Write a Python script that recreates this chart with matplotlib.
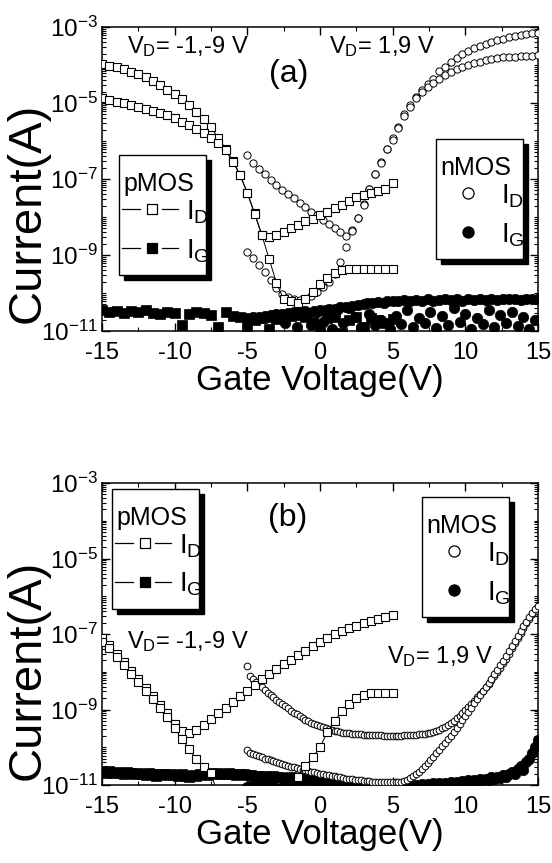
import numpy as np
import matplotlib
import matplotlib.pyplot as plt
from matplotlib.patches import Rectangle
from matplotlib.ticker import FixedLocator, LogLocator, MultipleLocator, FuncFormatter, NullFormatter

matplotlib.use('Agg')

plt.rcParams['font.family'] = ['Liberation Sans', 'DejaVu Sans']
plt.rcParams['mathtext.fontset'] = 'custom'
plt.rcParams['mathtext.rm'] = 'Liberation Sans'
plt.rcParams['mathtext.it'] = 'Liberation Sans:italic'
plt.rcParams['mathtext.bf'] = 'Liberation Sans:bold'
plt.rcParams['axes.unicode_minus'] = False

# gate voltage sweeps
VG_P = np.linspace(-15, 5, 41)          # pMOS drain current, 0.5 V steps
VG_N_A = np.linspace(-5, 15, 51)        # nMOS drain current (a), 0.4 V steps
VG_N_B = np.linspace(-5, 15, 101)       # nMOS drain current (b), 0.2 V steps
VG_PG_B = np.linspace(-15, 5, 81)       # pMOS gate current (b), 0.25 V steps
VG_NG = np.linspace(-5, 15, 101)        # nMOS gate current, 0.2 V steps

# all currents as log10(I / A)
# ---- panel (a)
a_p_id_hi = [-3.97, -4.02, -4.05, -4.11, -4.18, -4.23, -4.31, -4.43, -4.53, -4.65, -4.76,
             -4.9, -5.05, -5.23, -5.43, -5.64, -5.92, -6.2, -6.52, -6.89, -7.36, -7.9,
             -8.47, -8.52, -8.47, -8.39, -8.3, -8.21, -8.11, -8.04, -7.95, -7.86, -7.75,
             -7.68, -7.58, -7.48, -7.42, -7.36, -7.31, -7.25, -7.11]
a_p_id_lo = [-4.88, -4.92, -4.97, -5.01, -5.05, -5.1, -5.16, -5.2, -5.26, -5.32, -5.4,
             -5.49, -5.58, -5.69, -5.79, -5.91, -6.06, -6.24, -6.54, -6.9, -7.37, -7.92,
             -8.48, -9.1, -9.73, -10.17, -10.2, -10.25, -10.17, -9.97, -9.77, -9.61, -9.48,
             -9.39, -9.38, -9.38, -9.38, -9.38, -9.38, -9.38, -9.38]
a_p_ig = [-10.45, -10.5, -10.47, -10.52, -10.48, -10.5, -10.46, -10.52, -10.55, -10.5, -10.52,
          -10.85, -10.55, -10.5, -10.53, -10.58, -10.9, -10.5, -10.6, -10.62, -10.88, -10.7,
          -10.65, -10.95, -10.68, -10.62, -10.6, -10.58, -10.63, -10.75, -10.9, -10.66, -10.62,
          -11.05, -10.7, -10.62, -10.9, -10.65, -10.7, -10.8, -10.68]
a_n_id_hi = [-6.37, -6.58, -6.74, -6.88, -7.02, -7.15, -7.28, -7.39, -7.51, -7.62, -7.74,
             -7.86, -7.96, -8.08, -8.19, -8.29, -8.4, -8.5, -8.34, -8.02, -7.67, -7.26,
             -6.86, -6.54, -6.21, -5.93, -5.62, -5.3, -5.05, -4.83, -4.65, -4.5, -4.36,
             -4.17, -4.04, -3.92, -3.81, -3.72, -3.63, -3.56, -3.5, -3.45, -3.4, -3.35,
             -3.31, -3.27, -3.24, -3.21, -3.19, -3.17, -3.15]
a_n_id_lo = [-8.91, -9.08, -9.27, -9.45, -9.66, -9.86, -10.02, -10.1, -10.17, -10.18, -10.15,
             -10.08, -9.98, -9.84, -9.71, -9.5, -9.18, -8.8, -8.37, -8.02, -7.69, -7.27,
             -6.88, -6.57, -6.22, -5.98, -5.66, -5.34, -5.1, -4.88, -4.72, -4.58, -4.47,
             -4.37, -4.27, -4.19, -4.11, -4.05, -4.0, -3.95, -3.91, -3.87, -3.84, -3.82,
             -3.8, -3.79, -3.78, -3.77, -3.76, -3.75, -3.74]
a_n_ig = [-10.66, -10.7, -10.64, -10.68, -10.62, -10.66, -10.6, -10.64, -10.58, -10.62, -10.56,
          -10.6, -10.55, -10.8, -10.53, -10.57, -10.51, -10.9, -10.5, -10.54, -10.48,
          -10.52, -10.85, -10.47, -10.5, -10.44, -10.75, -10.46, -10.42, -10.95, -10.41,
          -10.44, -10.38, -10.8, -10.36, -10.4, -10.34, -10.62, -10.32, -10.9, -10.3,
          -10.27, -10.55, -10.25, -10.85, -10.23, -10.7, -10.26, -10.22, -10.95, -10.2,
          -10.6, -10.22, -10.82, -10.19, -10.45, -10.21, -10.9, -10.18, -10.65, -10.2,
          -10.78, -10.17, -10.5, -10.2, -10.92, -10.18, -10.6, -10.16, -10.85, -10.19,
          -10.4, -10.17, -10.75, -10.2, -10.55, -10.16, -10.95, -10.18, -10.65, -10.15,
          -10.82, -10.18, -10.45, -10.16, -10.9, -10.19, -10.58, -10.15, -10.8, -10.17,
          -10.5, -10.16, -10.88, -10.18, -10.62, -10.15, -10.95, -10.17, -10.7, -10.16]

# ---- panel (b)
b_p_id_hi = [-7.1, -7.3, -7.52, -7.75, -7.98, -8.2, -8.42, -8.65, -8.88, -9.1, -9.38,
             -9.58, -9.62, -9.55, -9.4, -9.25, -9.1, -8.95, -8.8, -8.65, -8.5, -8.35,
             -8.2, -8.05, -7.92, -7.8, -7.68, -7.56, -7.44, -7.33, -7.22, -7.1, -7.0,
             -6.92, -6.85, -6.78, -6.72, -6.66, -6.6, -6.55, -6.5]
b_p_id_lo = [-7.2, -7.38, -7.6, -7.83, -8.06, -8.28, -8.5, -8.72, -8.95, -9.2, -9.48,
             -9.78, -10.05, -10.32, -10.52, -10.68, -11.3, -11.5, -11.6, -11.7, -11.7, -11.7,
             -11.6, -11.6, -11.5, -11.4, -11.2, -10.78, -10.5, -10.27, -10.0, -9.6, -9.3,
             -9.05, -8.85, -8.7, -8.62, -8.57, -8.55, -8.55, -8.57]
b_p_ig = [-10.62, -10.67, -10.64, -10.69, -10.65, -10.68, -10.71, -10.66, -10.69, -10.72, -10.67,
          -10.7, -10.73, -10.68, -10.71, -10.75, -10.72, -10.7, -10.74, -10.71, -10.73,
          -10.76, -10.72, -10.75, -10.78, -10.74, -10.76, -10.72, -10.7, -10.73, -10.69,
          -10.71, -10.68, -10.7, -10.72, -10.69, -10.71, -10.73, -10.7, -10.72, -10.74,
          -10.74, -10.77, -10.75, -10.78, -10.76, -10.79, -10.77, -10.8, -10.78, -10.81,
          -10.82, -10.8, -10.83, -10.81, -10.84, -10.85, -10.83, -10.86, -10.87, -10.85,
          -10.88, -10.9, -10.89, -10.91, -10.93, -10.92, -10.94, -10.96, -10.95, -10.98,
          -11.0, -10.99, -11.01, -11.03, -11.02, -11.04, -11.06, -11.05, -11.08, -11.1]
b_n_id_hi = [-7.85, -8.12, -8.2, -8.27, -8.34, -8.41, -8.48, -8.55, -8.61, -8.68, -8.74,
             -8.8, -8.86, -8.92, -8.97, -9.03, -9.08, -9.13, -9.18, -9.22, -9.27,
             -9.31, -9.35, -9.38, -9.41, -9.44, -9.47, -9.5, -9.52, -9.54, -9.56,
             -9.58, -9.6, -9.61, -9.62, -9.63, -9.64, -9.65, -9.66, -9.66, -9.67,
             -9.67, -9.68, -9.68, -9.68, -9.68, -9.68, -9.69, -9.69, -9.69, -9.69,
             -9.69, -9.69, -9.69, -9.68, -9.68, -9.68, -9.67, -9.67, -9.66, -9.65,
             -9.64, -9.63, -9.61, -9.59, -9.57, -9.54, -9.5, -9.46, -9.41, -9.36,
             -9.3, -9.23, -9.16, -9.09, -9.01, -8.93, -8.85, -8.77, -8.68, -8.59,
             -8.5, -8.41, -8.32, -8.22, -8.12, -8.01, -7.9, -7.78, -7.65, -7.52,
             -7.38, -7.24, -7.1, -6.97, -6.84, -6.71, -6.59, -6.48, -6.38, -6.28]
b_n_id_lo = [-10.07, -10.15, -10.18, -10.21, -10.24, -10.27, -10.3, -10.32, -10.35, -10.37, -10.4,
             -10.42, -10.45, -10.47, -10.49, -10.51, -10.53, -10.55, -10.57, -10.59, -10.61,
             -10.63, -10.65, -10.66, -10.68, -10.7, -10.71, -10.73, -10.74, -10.76, -10.77,
             -10.79, -10.8, -10.81, -10.83, -10.84, -10.85, -10.86, -10.87, -10.88, -10.89,
             -10.9, -10.9, -10.91, -10.91, -10.92, -10.92, -10.93, -10.93, -10.93, -10.93,
             -10.93, -10.92, -10.91, -10.89, -10.86, -10.82, -10.77, -10.71, -10.65, -10.58,
             -10.5, -10.42, -10.34, -10.25, -10.16, -10.07, -9.98, -9.89, -9.79, -9.69,
             -9.59, -9.49, -9.38, -9.28, -9.17, -9.06, -8.95, -8.84, -8.73, -8.62,
             -8.51, -8.4, -8.29, -8.18, -8.07, -7.95, -7.83, -7.71, -7.58, -7.45,
             -7.32, -7.19, -7.06, -6.93, -6.8, -6.68, -6.56, -6.45, -6.35, -6.26]
b_n_ig = [-11.05, -11.02, -11.06, -11.03, -11.07, -11.04, -11.08, -11.05, -11.1, -11.06, -11.08,
          -11.1, -11.07, -11.12, -11.09, -11.11, -11.14, -11.1, -11.13, -11.15, -11.12,
          -11.15, -11.18, -11.14, -11.17, -11.2, -11.16, -11.19, -11.22, -11.18, -11.2,
          -11.22, -11.19, -11.24, -11.21, -11.25, -11.22, -11.26, -11.23, -11.2, -11.24,
          -11.22, -11.2, -11.18, -11.21, -11.17, -11.15, -11.18, -11.14, -11.12, -11.1,
          -11.08, -11.05, -11.07, -11.02, -11.04, -11.0, -11.03, -10.99, -11.02, -10.98,
          -11.0, -10.97, -11.02, -10.96, -10.99, -10.95, -11.0, -10.94, -10.97, -10.93,
          -10.96, -10.92, -10.95, -10.9, -10.94, -10.88, -10.92, -10.87, -10.9, -10.85,
          -10.88, -10.83, -10.86, -10.8, -10.84, -10.78, -10.82, -10.74, -10.8, -10.7,
          -10.66, -10.72, -10.58, -10.5, -10.6, -10.4, -10.3, -10.15, -10.0, -9.82]

# figure geometry in pixels (figure is 552 x 863 at 100 dpi)
FIG_W, FIG_H = 552, 863
AX_L, AX_R = 102, 538
PANELS = {'a': (27, 331), 'b': (483, 785)}


def amps(logs):
    return 10.0 ** np.asarray(logs)


def frac(top, bottom, px, py):
    return (px - AX_L) / (AX_R - AX_L), (bottom - py) / (bottom - top)


def legend_box(ax, top, bottom, x0, y0, title, kind):
    # x0, y0: top-left corner of the box, pixels
    w, h = 87, 120
    fx, fy = frac(top, bottom, x0, y0 + h)
    fw = w / (AX_R - AX_L)
    fh = h / (bottom - top)
    sx, sy = 5 / (AX_R - AX_L), 5 / (bottom - top)
    ax.add_patch(Rectangle((fx + sx, fy - sy), fw, fh, transform=ax.transAxes,
                           facecolor='black', edgecolor='black', zorder=20, clip_on=False))
    ax.add_patch(Rectangle((fx, fy), fw, fh, transform=ax.transAxes, facecolor='white',
                           edgecolor='black', lw=1.0, zorder=21, clip_on=False))
    tx, ty = frac(top, bottom, x0 + 4, y0 + 36)
    ax.text(tx, ty, title, transform=ax.transAxes, fontsize=18, va='baseline', zorder=22)
    for dy, filled, lab in [(54, False, r'$\mathregular{I_D}$'), (93, True, r'$\mathregular{I_G}$')]:
        face = 'black' if filled else 'white'
        if kind == 'p':
            for xa, xb in [(3, 21), (43, 59)]:
                p1 = frac(top, bottom, x0 + xa, y0 + dy)
                p2 = frac(top, bottom, x0 + xb, y0 + dy)
                ax.plot([p1[0], p2[0]], [p1[1], p2[1]], color='black', lw=0.9,
                        transform=ax.transAxes, zorder=22, clip_on=False)
            mx = frac(top, bottom, x0 + 33, y0 + dy)
            ax.plot([mx[0]], [mx[1]], 's', ms=7, mfc=face, mec='black', mew=0.9,
                    transform=ax.transAxes, zorder=23, clip_on=False)
            lx = frac(top, bottom, x0 + 67, y0 + dy + 10)
        else:
            mx = frac(top, bottom, x0 + 32, y0 + dy)
            ax.plot([mx[0]], [mx[1]], 'o', ms=8, mfc=face, mec='black', mew=0.9,
                    transform=ax.transAxes, zorder=23, clip_on=False)
            lx = frac(top, bottom, x0 + 65, y0 + dy + 10)
        ax.text(lx[0], lx[1], lab, transform=ax.transAxes, fontsize=20, va='baseline', zorder=22)


def setup_axes(ax, top, bottom, label_y):
    ax.set_xlim(-15, 15)
    ax.set_yscale('log')
    ax.set_ylim(1e-11, 1e-3)
    ax.xaxis.set_major_locator(MultipleLocator(5))
    ax.xaxis.set_minor_locator(MultipleLocator(2.5))
    ax.yaxis.set_major_locator(FixedLocator([1e-11, 1e-9, 1e-7, 1e-5, 1e-3]))
    ax.yaxis.set_minor_locator(LogLocator(base=10, subs=np.arange(1, 10), numticks=30))
    ax.yaxis.set_minor_formatter(NullFormatter())
    ax.yaxis.set_major_formatter(FuncFormatter(
        lambda v, p: r'$\mathregular{10^{%d}}$' % int(round(np.log10(v)))))
    ax.tick_params(which='both', direction='in', top=True, right=True)
    ax.tick_params(axis='x', labelsize=17, pad=8)
    ax.tick_params(axis='y', labelsize=17.5, pad=3)
    ax.tick_params(which='major', length=6, width=1.0)
    ax.tick_params(which='minor', length=3, width=0.8)
    for sp in ax.spines.values():
        sp.set_linewidth(1.1)
    ax.set_xlabel('Gate Voltage(V)', fontsize=25, labelpad=0)
    ax.set_ylabel('Current(A)', fontsize=34)
    ax.yaxis.set_label_coords(frac(top, bottom, 50, 0)[0], frac(top, bottom, 0, label_y)[1])


def draw_panel(ax, p_id, p_ig_v, p_ig, n_v, n_id, n_ig_v, n_ig, ms_n):
    ax.plot(p_ig_v, amps(p_ig), 's', ms=6.5, mfc='black', mec='black', mew=0.5, zorder=3)
    ax.plot(n_ig_v, amps(n_ig), 'o', ms=7.5, mfc='black', mec='black', mew=0.5, zorder=3)
    for curve in n_id:
        ax.plot(n_v, amps(curve), 'o', ms=ms_n, mfc='white', mec='black', mew=0.7, zorder=4)
    for curve in p_id:
        ax.plot(VG_P, amps(curve), '-', color='black', lw=0.7, zorder=4)
        ax.plot(VG_P, amps(curve), 's', ms=5.5, mfc='white', mec='black', mew=0.8, zorder=5)


fig = plt.figure(figsize=(FIG_W / 100, FIG_H / 100), dpi=100)

top, bottom = PANELS['a']
ax_a = fig.add_axes([AX_L / FIG_W, (FIG_H - bottom) / FIG_H,
                     (AX_R - AX_L) / FIG_W, (bottom - top) / FIG_H])
draw_panel(ax_a, [a_p_id_hi, a_p_id_lo], VG_P, a_p_ig, VG_N_A, [a_n_id_hi, a_n_id_lo],
           VG_NG, a_n_ig, 5.2)
setup_axes(ax_a, top, bottom, 213)
legend_box(ax_a, top, bottom, 119, 155, 'pMOS', 'p')
legend_box(ax_a, top, bottom, 436, 139, 'nMOS', 'n')
ax_a.text(*frac(top, bottom, 127, 53), r'$\mathregular{V_D}$= -1,-9 V', transform=ax_a.transAxes,
          fontsize=17, va='baseline')
ax_a.text(*frac(top, bottom, 329, 53), r'$\mathregular{V_D}$= 1,9 V', transform=ax_a.transAxes,
          fontsize=17, va='baseline')
ax_a.text(*frac(top, bottom, 289, 74), '(a)', transform=ax_a.transAxes, fontsize=23,
          ha='center', va='center')

top, bottom = PANELS['b']
ax_b = fig.add_axes([AX_L / FIG_W, (FIG_H - bottom) / FIG_H,
                     (AX_R - AX_L) / FIG_W, (bottom - top) / FIG_H])
draw_panel(ax_b, [b_p_id_hi, b_p_id_lo], VG_PG_B, b_p_ig, VG_N_B, [b_n_id_hi, b_n_id_lo],
           VG_NG, b_n_ig, 4.8)
setup_axes(ax_b, top, bottom, 670)
legend_box(ax_b, top, bottom, 112, 489, 'pMOS', 'p')
legend_box(ax_b, top, bottom, 422, 497, 'nMOS', 'n')
ax_b.text(*frac(top, bottom, 127, 648), r'$\mathregular{V_D}$= -1,-9 V', transform=ax_b.transAxes,
          fontsize=17, va='baseline')
ax_b.text(*frac(top, bottom, 387, 663), r'$\mathregular{V_D}$= 1,9 V', transform=ax_b.transAxes,
          fontsize=17, va='baseline')
ax_b.text(*frac(top, bottom, 288, 518), '(b)', transform=ax_b.transAxes, fontsize=23,
          ha='center', va='center')

fig.savefig('out.png', dpi=100)
